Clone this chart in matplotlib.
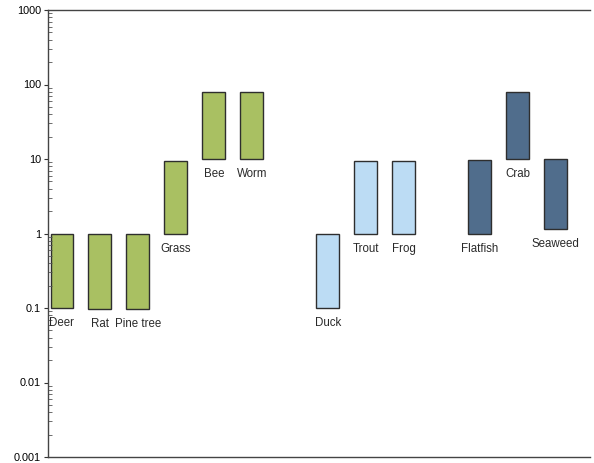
import numpy as np
import matplotlib
matplotlib.use("Agg")
import matplotlib.pyplot as plt
from matplotlib.ticker import LogLocator, NullFormatter

plt.rcParams['font.family'] = ['Liberation Sans', 'DejaVu Sans']

# organisms, grouped; slot index leaves a gap between groups
names = ["Deer", "Rat", "Pine tree", "Grass", "Bee", "Worm",
         "Duck", "Trout", "Frog",
         "Flatfish", "Crab", "Seaweed"]
slot = [0, 1, 2, 3, 4, 5, 7, 8, 9, 11, 12, 13]
low = [0.1, 0.097, 0.097, 1.0, 10, 10,
       0.1, 1.0, 1.0,
       1.0, 10, 1.15]
high = [1.0, 0.97, 0.97, 9.3, 80, 80,
        1.0, 9.5, 9.5,
        9.7, 80, 10]
group = ["land"] * 6 + ["fresh"] * 3 + ["sea"] * 3

colours = {"land": "#a9c062", "fresh": "#bcdcf4", "sea": "#506d8c"}

yticks = [0.001, 0.01, 0.1, 1, 10, 100, 1000]
ytick_labels = ["0.001", "0.01", "0.1", "1", "10", "100", "1000"]

fig = plt.figure(figsize=(5.94, 4.63), dpi=100)
ax = fig.add_axes([48/594, 6/463, 542/594, 447/463])

low = np.array(low)
high = np.array(high)
ax.bar(slot, high - low, bottom=low, width=0.6,
       color=[colours[g] for g in group], edgecolor="#2e2e2e", linewidth=1.0)

for s, n, lo in zip(slot, names, low):
    ax.annotate(n, (s, lo), xytext=(0, -6.5), textcoords="offset points",
                ha="center", va="top", fontsize=8.3, color="#2a2a2a")

ax.set_yscale("log")
ax.set_ylim(1e-3, 1e3)
ax.set_xlim(-0.366, 13.9)
ax.set_yticks(yticks)
ax.set_yticklabels(ytick_labels)
ax.yaxis.set_minor_locator(LogLocator(base=10, subs=np.arange(2, 10)))
ax.yaxis.set_minor_formatter(NullFormatter())
ax.tick_params(axis="y", which="major", direction="out", length=3, labelsize=7.8, pad=2, color="#333333")
ax.tick_params(axis="y", which="minor", direction="in", length=3, color="#555555")
ax.set_xticks([])

ax.spines["right"].set_visible(False)
for sp in ["left", "top", "bottom"]:
    ax.spines[sp].set_color("#444444")
    ax.spines[sp].set_linewidth(1.0)

fig.savefig("out.png", dpi=100)
